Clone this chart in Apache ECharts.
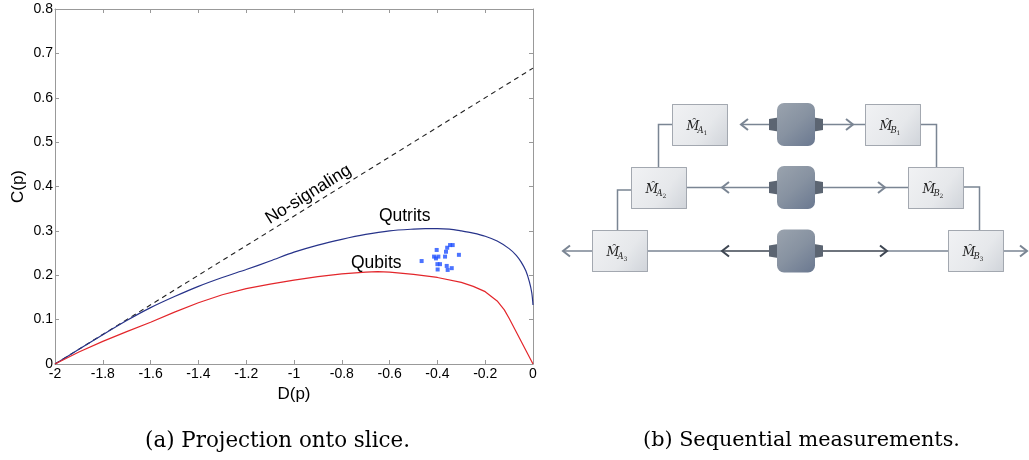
<!DOCTYPE html>
<html>
<head>
<meta charset="utf-8">
<script src="https://cdn.jsdelivr.net/npm/echarts@6/dist/echarts.min.js"></script>
<style>
html,body{margin:0;padding:0;background:#fff;}
#chart{width:1029px;height:460px;}
</style>
</head>
<body>
<div id="chart"></div>
<script>
// ---- Data ----
const xTicks = [-2, -1.8, -1.6, -1.4, -1.2, -1, -0.8, -0.6, -0.4, -0.2, 0];
const yTicks = [0, 0.1, 0.2, 0.3, 0.4, 0.5, 0.6, 0.7, 0.8];

const noSignalX = [-2, 0];
const noSignalY = [0, 0.6667];

const qutritX = [-2, -1.9, -1.8, -1.7, -1.6, -1.5, -1.4, -1.3, -1.2, -1.1, -1.0, -0.9, -0.8, -0.7, -0.6, -0.5, -0.45, -0.4, -0.35, -0.3, -0.25, -0.2, -0.15, -0.1, -0.07, -0.05, -0.03, -0.015, -0.005, 0];
const qutritY = [0, 0.033, 0.066, 0.098, 0.127, 0.152, 0.175, 0.195, 0.213, 0.232, 0.252, 0.268, 0.281, 0.292, 0.300, 0.304, 0.305, 0.305, 0.304, 0.300, 0.295, 0.288, 0.277, 0.260, 0.245, 0.230, 0.210, 0.185, 0.160, 0.133];

const qubitX = [-2, -1.9, -1.8, -1.7, -1.6, -1.5, -1.4, -1.3, -1.2, -1.1, -1.0, -0.9, -0.8, -0.7, -0.65, -0.6, -0.5, -0.4, -0.3, -0.25, -0.2, -0.15, -0.12, -0.1, 0];
const qubitY = [0, 0.027, 0.051, 0.073, 0.094, 0.117, 0.138, 0.156, 0.170, 0.180, 0.189, 0.197, 0.203, 0.207, 0.208, 0.207, 0.202, 0.195, 0.184, 0.175, 0.163, 0.142, 0.122, 0.103, 0];

const dotX = [-0.466, -0.403, -0.414, -0.406, -0.396, -0.400, -0.389, -0.399, -0.361, -0.340, -0.357, -0.368, -0.364, -0.359, -0.347, -0.336, -0.310];
const dotY = [0.232, 0.257, 0.242, 0.238, 0.242, 0.225, 0.225, 0.213, 0.221, 0.216, 0.212, 0.242, 0.253, 0.262, 0.268, 0.268, 0.246];

const annotText = ['No-signaling', 'Qutrits', 'Qubits'];
const annotX = [-0.94, -0.537, -0.656];
const annotY = [0.382, 0.334, 0.228];
const annotRotate = [32, 0, 0];

const captionA = '(a) Projection onto slice.';
const captionB = '(b) Sequential measurements.';

// ---- helpers ----
const zip = (xs, ys) => xs.map((x, i) => [x, ys[i]]);
function fitFont(text, family, target, style) {
  const c = document.createElement('canvas').getContext('2d');
  c.font = (style || '') + ' 100px "' + family + '"';
  const w = c.measureText(text).width;
  return 100 * target / w;
}

const axisGrey = '#999999';
const sansFont = 'Liberation Sans';
const serifFont = 'DejaVu Serif';

// ---- diagram (b) geometry ----
const lineCol = '#7a8593';
const darkCol = '#3e4652';
const boxW = 55, boxH = 41;
const boxes = [
  {x: 672, y: 104, s: 'A', n: '1'},
  {x: 865, y: 104, s: 'B', n: '1'},
  {x: 631, y: 167, s: 'A', n: '2'},
  {x: 908, y: 167, s: 'B', n: '2'},
  {x: 592, y: 230, s: 'A', n: '3'},
  {x: 948, y: 230, s: 'B', n: '3'}
];
const rowsY = [124.5, 187.5, 251];
const devX = 777, devW = 38, devH = 43;

const graphics = [];
function line(points, color, width) {
  graphics.push({type: 'polyline', shape: {points: points}, style: {stroke: color || lineCol, lineWidth: width || 1.5, fill: null}, z: 1});
}
function chevron(tipX, y, dir, color) {
  const d = dir === 'left' ? 7 : -7;
  line([[tipX + d, y - 5.5], [tipX, y], [tipX + d, y + 5.5]], color, 2);
}
// connectors
line([[672, 124.5], [658.5, 124.5], [658.5, 167]]);
line([[631, 190], [617.5, 190], [617.5, 230]]);
line([[920, 124.5], [936.5, 124.5], [936.5, 167]]);
line([[963, 187], [979.5, 187], [979.5, 230]]);
// row 1
line([[769, rowsY[0]], [742, rowsY[0]]]); chevron(741, rowsY[0], 'left');
line([[823, rowsY[0]], [865, rowsY[0]]]); chevron(853, rowsY[0], 'right');
// row 2
line([[686, rowsY[1]], [769, rowsY[1]]]); chevron(722, rowsY[1], 'left');
line([[823, rowsY[1]], [908, rowsY[1]]]); chevron(885, rowsY[1], 'right');
// row 3
line([[647, rowsY[2]], [722, rowsY[2]]]);
line([[722, rowsY[2]], [769, rowsY[2]]], darkCol);
chevron(722, rowsY[2], 'left', darkCol);
line([[823, rowsY[2]], [887, rowsY[2]]], darkCol);
line([[887, rowsY[2]], [948, rowsY[2]]]);
chevron(887, rowsY[2], 'right', darkCol);
// outer arrows
line([[592, rowsY[2]], [564, rowsY[2]]]); chevron(563, rowsY[2], 'left');
line([[1003, rowsY[2]], [1027, rowsY[2]]]); chevron(1027, rowsY[2], 'right');

// boxes
boxes.forEach(b => {
  graphics.push({
    type: 'rect', shape: {x: b.x + 0.5, y: b.y + 0.5, width: boxW, height: boxH},
    style: {
      fill: new echarts.graphic.LinearGradient(0, 0, 1, 1, [
        {offset: 0, color: '#f1f2f4'}, {offset: 0.6, color: '#e6e8eb'}, {offset: 1, color: '#cfd3d9'}
      ]),
      stroke: '#a3a8b0', lineWidth: 1
    }, z: 2
  });
  graphics.push({type: 'text', x: b.x + 14.5, y: b.y + 23, z: 3,
    style: {text: 'M\u0302', font: 'italic 12.5px "' + serifFont + '"', fill: '#222', verticalAlign: 'middle'}});
  graphics.push({type: 'text', x: b.x + 25.5, y: b.y + 27, z: 3,
    style: {text: b.s, font: 'italic 8.5px "' + serifFont + '"', fill: '#222', verticalAlign: 'middle'}});
  graphics.push({type: 'text', x: b.x + 31.5, y: b.y + 29.5, z: 3,
    style: {text: b.n, font: '6px "' + serifFont + '"', fill: '#222', verticalAlign: 'middle'}});
});
// devices
rowsY.forEach(cy => {
  const top = cy - devH / 2;
  graphics.push({type: 'polygon', z: 2,
    shape: {points: [[devX + 1, cy - 7], [devX - 8, cy - 5.5], [devX - 8, cy + 5.5], [devX + 1, cy + 7]]},
    style: {fill: '#5c6572'}});
  graphics.push({type: 'polygon', z: 2,
    shape: {points: [[devX + devW - 1, cy - 7], [devX + devW + 8, cy - 5.5], [devX + devW + 8, cy + 5.5], [devX + devW - 1, cy + 7]]},
    style: {fill: '#5c6572'}});
  graphics.push({type: 'rect', z: 3,
    shape: {x: devX, y: top, width: devW, height: devH, r: 7},
    style: {fill: new echarts.graphic.LinearGradient(0, 0, 1, 1, [
      {offset: 0, color: '#9aa3ae'}, {offset: 0.5, color: '#8792a1'}, {offset: 1, color: '#6a7890'}
    ])}});
});

// captions
const capSizeA = fitFont(captionA, serifFont, 265);
const capSizeB = fitFont(captionB, serifFont, 317);
graphics.push({type: 'text', x: 277.5, y: 441, style: {text: captionA, font: capSizeA.toFixed(2) + 'px "' + serifFont + '"', fill: '#000', align: 'center', verticalAlign: 'middle'}});
graphics.push({type: 'text', x: 801.5, y: 441, style: {text: captionB, font: capSizeB.toFixed(2) + 'px "' + serifFont + '"', fill: '#000', align: 'center', verticalAlign: 'middle'}});

// ---- chart ----
const chart = echarts.init(document.getElementById('chart'), null, {renderer: 'canvas'});
const labelFmt = v => {
  const r = Math.round(v * 10) / 10;
  return String(r);
};
const baseX = {
  type: 'value', min: xTicks[0], max: xTicks[xTicks.length - 1], interval: 0.2,
  axisLine: {show: true, onZero: false, lineStyle: {color: axisGrey, width: 1}},
  axisTick: {show: true, inside: true, length: 4, lineStyle: {color: axisGrey}},
  splitLine: {show: false}
};
const baseY = {
  type: 'value', min: yTicks[0], max: yTicks[yTicks.length - 1], interval: 0.1,
  axisLine: {show: true, onZero: false, lineStyle: {color: axisGrey, width: 1}},
  axisTick: {show: true, inside: true, length: 4, lineStyle: {color: axisGrey}},
  splitLine: {show: false}
};
chart.setOption({
  animation: false,
  backgroundColor: '#ffffff',
  grid: {left: 55, right: 496, top: 9, bottom: 96, containLabel: false},
  xAxis: [
    Object.assign({}, baseX, {
      position: 'bottom',
      name: 'D(p)', nameLocation: 'middle', nameGap: 21,
      nameTextStyle: {color: '#000', fontSize: 17, fontFamily: sansFont},
      axisLabel: {color: '#000', fontSize: 14, fontFamily: sansFont, margin: 3, formatter: labelFmt}
    }),
    Object.assign({}, baseX, {position: 'top', axisLabel: {show: false}})
  ],
  yAxis: [
    Object.assign({}, baseY, {
      position: 'left',
      name: 'C(p)', nameLocation: 'middle', nameGap: 28,
      nameTextStyle: {color: '#000', fontSize: 17, fontFamily: sansFont},
      axisLabel: {color: '#000', fontSize: 14, fontFamily: sansFont, margin: 2, formatter: labelFmt}
    }),
    Object.assign({}, baseY, {position: 'right', axisLabel: {show: false}})
  ],
  series: [
    {name: 'No-signaling', type: 'line', data: zip(noSignalX, noSignalY), symbol: 'none',
     lineStyle: {color: '#222', width: 1.1, type: [5, 4]}, z: 2},
    {name: 'Qutrits', type: 'line', data: zip(qutritX, qutritY), symbol: 'none', smooth: 0.3,
     lineStyle: {color: '#27338a', width: 1.2}, z: 3},
    {name: 'Qubits', type: 'line', data: zip(qubitX, qubitY), symbol: 'none',
     lineStyle: {color: '#e3262b', width: 1.2}, z: 3},
    {name: 'samples', type: 'scatter', data: zip(dotX, dotY), symbol: 'rect', symbolSize: 4,
     itemStyle: {color: '#1f50ff'}, z: 4}
  ],
  graphic: graphics
});

// annotation texts placed at data coordinates via the chart's own scales
const annotGraphics = annotText.map((t, i) => {
  const p = chart.convertToPixel({gridIndex: 0}, [annotX[i], annotY[i]]);
  return {type: 'text', x: p[0], y: p[1], rotation: annotRotate[i] * Math.PI / 180, z: 10,
    style: {text: t, font: '17.5px "' + sansFont + '"', fill: '#000', align: 'center', verticalAlign: 'middle'}};
});
chart.setOption({graphic: graphics.concat(annotGraphics)});
</script>
</body>
</html>
